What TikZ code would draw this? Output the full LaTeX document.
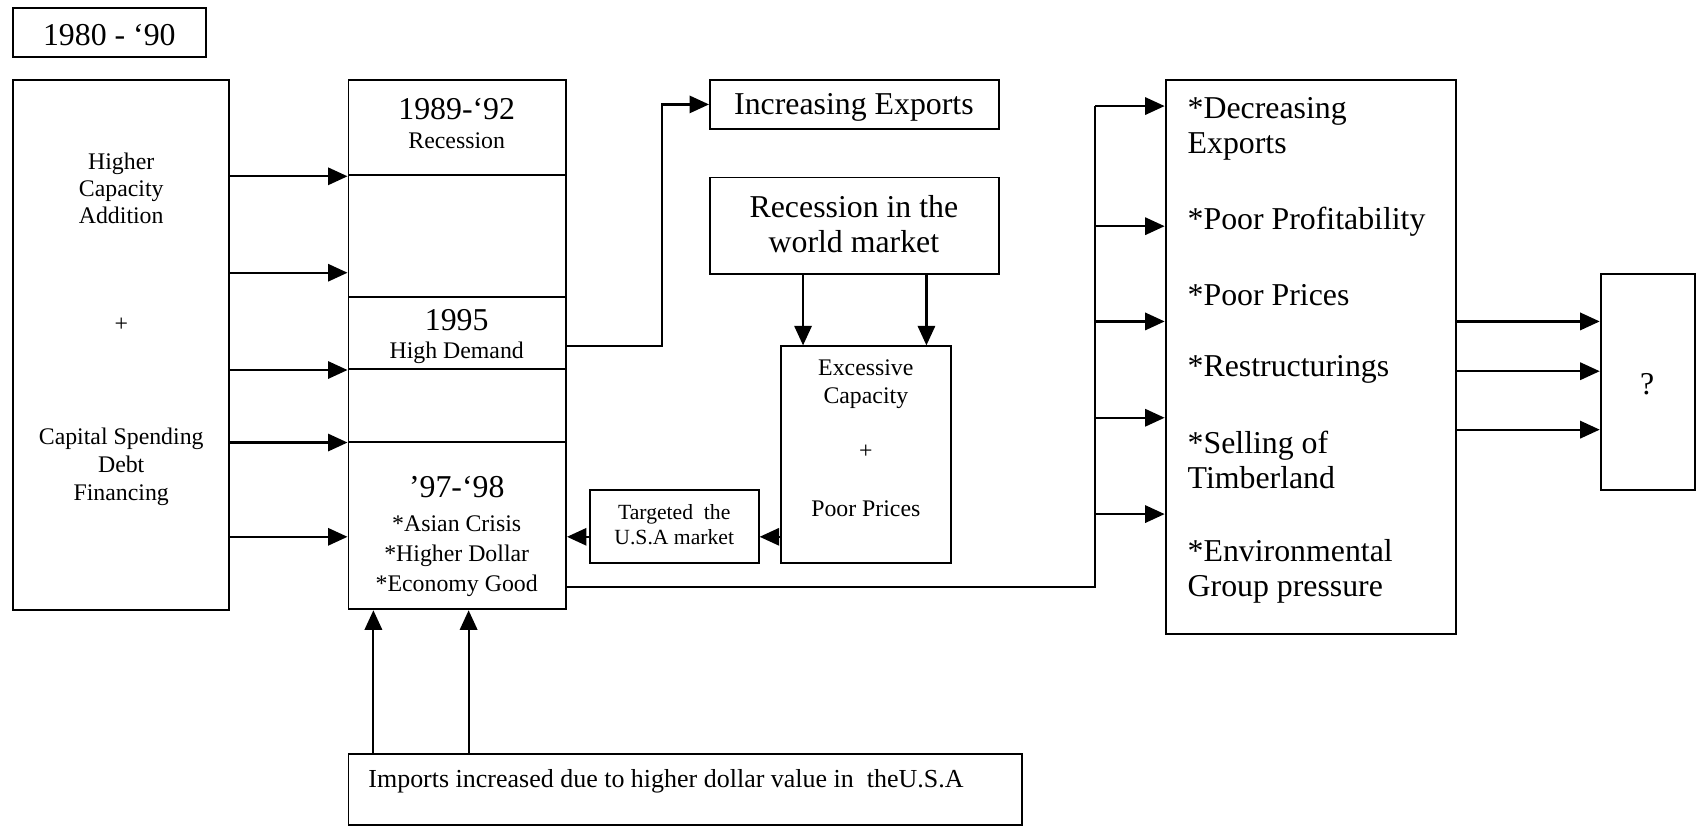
\documentclass[tikz,border=0pt]{standalone}
\usepackage{fontspec}
\setmainfont{Liberation Serif}
\usetikzlibrary{arrows.meta,fit}
\begin{document}
\begin{tikzpicture}[x=0.5pt,y=-0.5pt,
  box/.style={draw, line width=0.9pt, inner sep=0pt},
  big/.style={font=\fontsize{14.7}{16.5}\selectfont, inner sep=0pt, align=center},
  small/.style={font=\fontsize{11}{12.5}\selectfont, inner sep=0pt, align=center},
  tiny/.style={font=\fontsize{10}{11.5}\selectfont, inner sep=0pt, align=center},
  arr/.style={line width=1pt, -{Triangle[length=9pt,width=8pt]}},
  ln/.style={line width=1pt}]
\useasboundingbox (0,0) rectangle (1568,764);

% period label
\node[box, fit={(12,7)(190,53)}] (period) {};
\node[big] (periodt) at (101,32) {1980 - ‘90};

% left box
\node[box, fit={(12,74)(212,564)}] (left) {};
\node[small, font=\fontsize{11}{12.5}\selectfont] (lt1) at (112,174) {Higher\\Capacity\\Addition};
\node[small] (lplus) at (112,300) {+};
\node[small, font=\fontsize{11}{13}\selectfont] (lt2) at (112,431) {Capital Spending\\Debt\\Financing};

% middle column
\node[box, fit={(322,74)(523,162)}] (sec1) {};
\node[box, fit={(322,162)(523,274)}] (sec2) {};
\node[box, fit={(322,274)(523,341)}] (sec3) {};
\node[box, fit={(322,341)(523,408)}] (sec4) {};
\node[box, fit={(322,408)(523,563)}] (sec5) {};
\node[big] (s1a) at (422,101) {1989-‘92};
\node[small] (s1b) at (422,130) {Recession};
\node[big] (s3a) at (422,296) {1995};
\node[small] (s3b) at (422,326) {High Demand};
\node[big] (s5a) at (422,450) {’97-‘98};
\node[small] (s5b) at (422,514) {*Asian Crisis\\[1.5pt]*Higher Dollar\\[1.5pt]*Economy Good};

% arrows left -> middle
\draw[arr] (left.east |- sec1.south) -- (sec1.south west);
\draw[arr] (left.east |- 0,252) -- (sec2.west |- 0,252);
\draw[arr] (left.east |- sec3.south) -- (sec3.south west);
\draw[arr] (left.east |- sec4.south) -- (sec4.south west);
\draw[arr] (left.east |- 0,496) -- (sec5.west |- 0,496);

% increasing exports
\node[box, fit={(656,74)(923,119)}] (inc) {};
\node[big] (inct) at (789,99) {Increasing Exports};
\coordinate (incturn) at (612,320);
\draw[arr] (sec3.east |- incturn) -- (incturn) |- (inc.west);

% recession in the world market
\node[box, fit={(656,164)(923,253)}] (rec) {};
\node[big] (rect) at (789,207) {Recession in the\\world market};
\node[box, fit={(722,320)(879,520)}] (exc) {};
\node[small] (exc1) at (800,355) {Excessive\\Capacity};
\node[small] (exc2) at (800,417) {+};
\node[small] (exc3) at (800,470) {Poor Prices};
\draw[arr] (rec.south -| 742,0) -- (exc.north -| 742,0);
\draw[arr] (rec.south -| 856,0) -- (exc.north -| 856,0);

% targeted
\node[box, fit={(545,453)(701,520)}] (tgt) {};
\node[tiny] (tgtt) at (623,485) {Targeted~~the\\U.S.A market};
\draw[arr] (exc.west |- 0,496) -- (tgt.east |- 0,496);
\draw[arr] (tgt.west |- 0,496) -- (sec5.east |- 0,496);

% imports
\node[box, fit={(322,697)(944,762)}] (imp) {};
\node[font=\fontsize{12}{14}\selectfont, inner sep=0pt, anchor=west] (impt) at (340,722) {Imports increased due to higher dollar value in~~theU.S.A};
\draw[arr] (imp.north -| 345,0) -- (sec5.south -| 345,0);
\draw[arr] (imp.north -| 433,0) -- (sec5.south -| 433,0);

% results box
\node[box, fit={(1077,74)(1345,586)}] (res) {};
\begin{scope}[every node/.style={font=\fontsize{14.7}{16.5}\selectfont, inner sep=0pt, anchor=west, align=left}]
\node (r1) at (1097,119) {*Decreasing\\Exports};
\node (r2) at (1097,205) {*Poor Profitability};
\node (r3) at (1097,273) {*Poor Prices};
\node (r4) at (1097,341) {*Restructurings};
\node (r5) at (1097,425) {*Selling of\\Timberland};
\node (r6) at (1097,528) {*Environmental\\Group pressure};
\end{scope}

% bus to results
\coordinate (busb) at (1012,542);
\coordinate (bust) at (1012,98);
\draw[ln] (sec5.east |- busb) -- (busb) -- (bust);
\draw[arr] (bust) -- (res.west |- bust);
\foreach \yy/\nm in {209/b2,297/b3,386/b4,475/b5}{
  \coordinate (\nm) at (1012,\yy);
  \draw[arr] (\nm) -- (res.west |- \nm);
}

% question box
\node[box, fit={(1479,253)(1566,453)}] (q) {};
\node[big] (qt) at (1522,355) {?};
\foreach \yy in {297,343,397}{
  \draw[arr] (res.east |- 0,\yy) -- (q.west |- 0,\yy);
}
\end{tikzpicture}
\end{document}
